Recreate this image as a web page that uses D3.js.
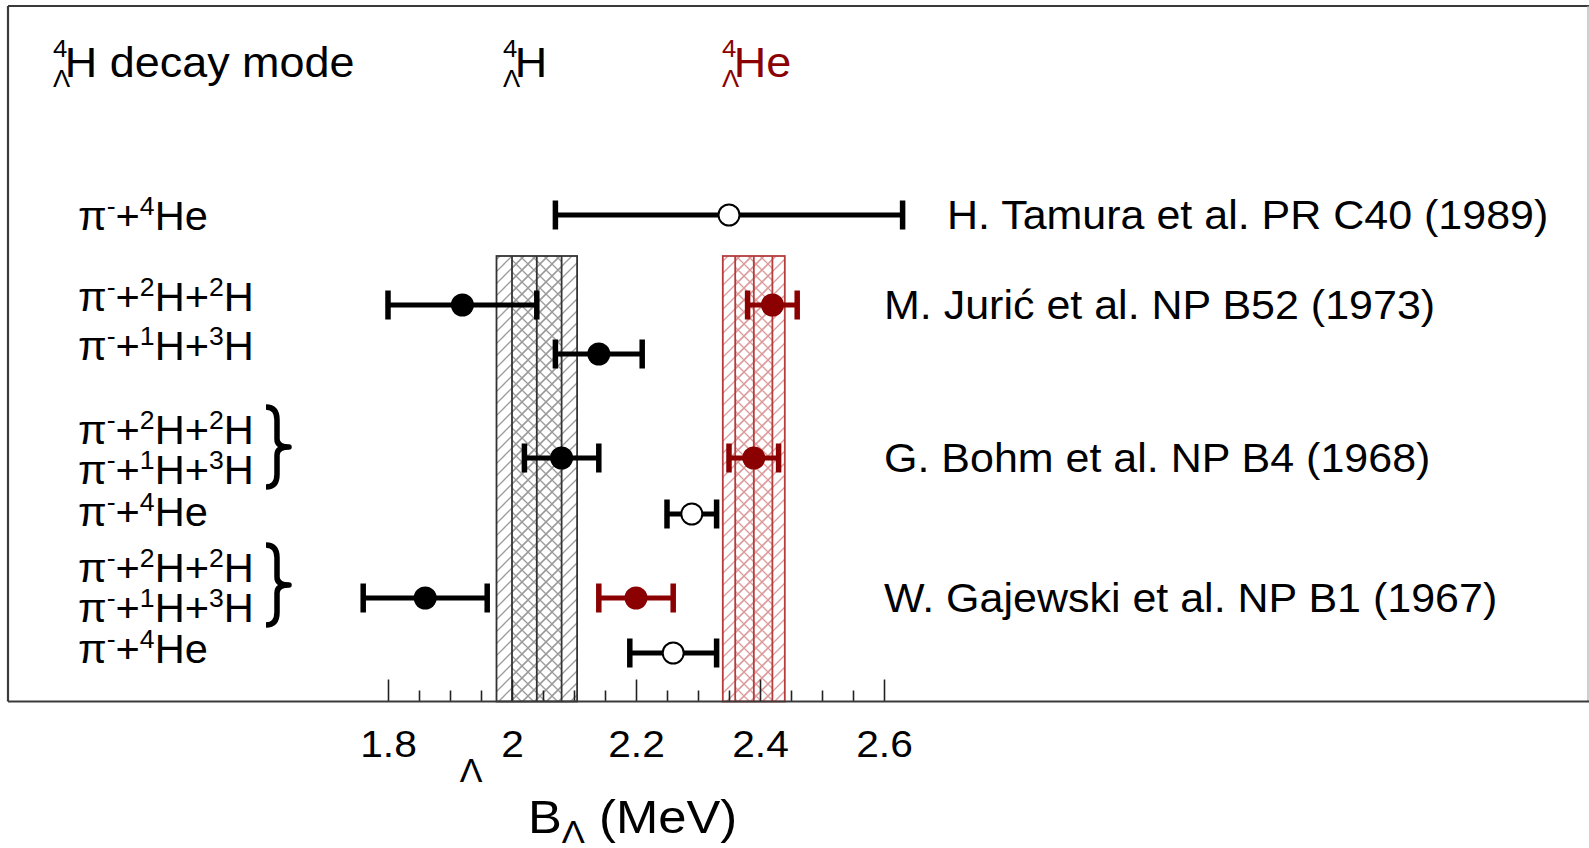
<!DOCTYPE html>
<html>
<head>
<meta charset="utf-8">
<script src="https://cdn.jsdelivr.net/npm/d3@7"></script>
<style>
  html, body { margin: 0; padding: 0; background: #fff; }
  svg { display: block; font-family: "Liberation Sans", Arial, sans-serif; }
</style>
</head>
<body>
<svg id="chart" width="1589" height="848"></svg>
<script>
// ---------------- data ----------------
// decay-mode text lines on the left ("^x" marks a superscript character)
const decayModes = ["π^-+^4He", "π^-+^2H+^2H", "π^-+^1H+^3H",
                    "π^-+^2H+^2H", "π^-+^1H+^3H", "π^-+^4He",
                    "π^-+^2H+^2H", "π^-+^1H+^3H", "π^-+^4He"];
const decayModeLines = ["T", "J1", "J2", "B1", "B2", "B3", "G1", "G2", "G3"];
const bracedLines = [["B1", "B2"], ["G1", "G2"]];

// experiments
const references = ["H. Tamura et al. PR C40 (1989)", "M. Jurić et al. NP B52 (1973)",
                    "G. Bohm et al. NP B4 (1968)", "W. Gajewski et al. NP B1 (1967)"];
const referenceRows = ["tamura", "juricDD", "bohm", "gajewski"];

// B_Λ of ⁴ΛH (filled black)
const hRows = ["juricDD", "juricPT", "bohm", "gajewski"];
const hValues = [1.92, 2.14, 2.08, 1.86];
const hErrors = [0.12, 0.07, 0.06, 0.10];

// B_Λ of ⁴ΛHe (filled red)
const heRows = ["juricDD", "bohm", "gajewski"];
const heValues = [2.42, 2.39, 2.20];
const heErrors = [0.04, 0.04, 0.06];

// ⁴ΛH from the π⁻+⁴He decay mode (open circles)
const he4Rows = ["tamura", "bohmHe4", "gajewskiHe4"];
const he4Values = [2.35, 2.29, 2.26];
const he4Errors = [0.28, 0.04, 0.07];

// averaged emulsion values (hatched bands)
const bandNames = ["H", "He"];
const bandCenters = [2.04, 2.39];
const bandStatErrors = [0.04, 0.03];
const bandTotalErrors = [0.065, 0.05];

// x axis
const xMajorTicks = [1.8, 2.0, 2.2, 2.4, 2.6];
const xTickLabels = ["1.8", "2", "2.2", "2.4", "2.6"];
const xMinorStep = 0.05;

// ---------------- layout ----------------
const W = 1589;
const frame = { left: 8, top: 6, right: 1588, bottom: 701.5 };
const bandTop = 256;
const black = "#000", red = "#8b0000";
const stretch = 1.07;   // the figure's lettering is slightly wide

const svg = d3.select("#chart");

const x = d3.scaleLinear().domain([1.8, 2.6]).range([388, 884]);
const rowY = d3.scaleOrdinal()
  .domain(["tamura", "juricDD", "juricPT", "bohm", "bohmHe4", "gajewski", "gajewskiHe4"])
  .range([215, 305, 354, 458, 514, 598, 653]);
const lineY = d3.scaleOrdinal().domain(decayModeLines)
  .range([230, 311, 360, 444, 484, 526, 582, 622, 663]);

function label(px, py, size, sx, color) {
  return svg.append("text")
    .attr("transform", `translate(${px},${py}) scale(${sx},1)`)
    .attr("font-size", size).style("fill", color || black);
}

// hatch patterns
const defs = svg.append("defs");
function hatch(id, color, cross) {
  const p = defs.append("pattern").attr("id", id)
    .attr("patternUnits", "userSpaceOnUse").attr("width", 12).attr("height", 12);
  p.append("path").attr("d", "M-3,15 L15,-3 M-3,3 L3,-3 M9,15 L15,9")
    .attr("stroke", color).attr("stroke-width", 1.3).attr("fill", "none");
  if (cross) {
    p.append("path").attr("d", "M-3,-3 L15,15 M-3,9 L3,15 M9,-3 L15,3")
      .attr("stroke", color).attr("stroke-width", 1.3).attr("fill", "none");
  }
}
hatch("hatch-H", "#9a9a9a", false);
hatch("cross-H", "#9a9a9a", true);
hatch("hatch-He", "#dc9a9a", false);
hatch("cross-He", "#dc9a9a", true);
const bandLineColor = { H: "#333", He: "#b43c3c" };

// bands
bandNames.forEach((name, i) => {
  const c = bandCenters[i], s = bandStatErrors[i], t = bandTotalErrors[i];
  const g = svg.append("g");
  const h = frame.bottom - bandTop;
  g.append("rect").attr("x", x(c - t)).attr("y", bandTop)
    .attr("width", x(c + t) - x(c - t)).attr("height", h).attr("fill", `url(#hatch-${name})`);
  g.append("rect").attr("x", x(c - s)).attr("y", bandTop)
    .attr("width", x(c + s) - x(c - s)).attr("height", h).attr("fill", `url(#cross-${name})`);
  g.append("rect").attr("x", x(c - t)).attr("y", bandTop)
    .attr("width", x(c + t) - x(c - t)).attr("height", h)
    .attr("fill", "none").attr("stroke", bandLineColor[name]).attr("stroke-width", 1.8);
  [c - s, c, c + s].forEach(v => {
    g.append("line").attr("x1", x(v)).attr("x2", x(v)).attr("y1", bandTop).attr("y2", frame.bottom)
      .attr("stroke", bandLineColor[name]).attr("stroke-width", 1.8);
  });
});

// frame borders
svg.append("line").attr("x1", frame.left).attr("x2", W).attr("y1", frame.top).attr("y2", frame.top)
  .attr("stroke", "#3a3a3a").attr("stroke-width", 2.2);
svg.append("line").attr("x1", frame.left).attr("x2", frame.left).attr("y1", frame.top).attr("y2", frame.bottom)
  .attr("stroke", "#3a3a3a").attr("stroke-width", 2.2);
svg.append("line").attr("x1", frame.right).attr("x2", frame.right).attr("y1", frame.top).attr("y2", frame.bottom)
  .attr("stroke", "#b0b0b0").attr("stroke-width", 1.2);

// x axis: ticks point up into the frame
const minorTicks = d3.range(1.8, 2.6 + 1e-9, xMinorStep)
  .filter(v => !xMajorTicks.some(m => Math.abs(m - v) < 1e-6));
const axisG = svg.append("g").attr("transform", `translate(0,${frame.bottom})`);
axisG.call(d3.axisBottom(x).tickValues(minorTicks).tickSizeInner(-11).tickSizeOuter(0).tickFormat(""));
const majorG = svg.append("g").attr("transform", `translate(0,${frame.bottom})`);
majorG.call(d3.axisBottom(x).tickValues(xMajorTicks).tickSizeInner(-22).tickSizeOuter(0)
  .tickPadding(29).tickFormat((d, i) => xTickLabels[i]));
[axisG, majorG].forEach(g => {
  g.select(".domain").remove();
  g.selectAll(".tick line").attr("stroke", "#222").attr("stroke-width", 1.6);
});
majorG.selectAll(".tick text").attr("font-size", 37).style("fill", "#000")
  .attr("font-family", "Liberation Sans, Arial, sans-serif")
  .attr("transform", "scale(1.1,1)");
svg.append("line").attr("x1", frame.left).attr("x2", W).attr("y1", frame.bottom).attr("y2", frame.bottom)
  .attr("stroke", "#3a3a3a").attr("stroke-width", 2.2);

// axis title
const title = label(528, 833, 47, 1.08);
title.append("tspan").text("B");
title.append("tspan").attr("font-size", 32).attr("dy", 10).text("Λ");
title.append("tspan").attr("dy", -10).text(" (MeV)");
label(471, 782, 34, 1, black).attr("text-anchor", "middle").text("Λ");

// header: hypernucleus symbols with stacked mass number / Λ
function hyper(x0, base, sym, color) {
  const t = label(x0, base, 42, stretch, color);
  t.append("tspan").attr("font-size", 24).attr("dy", -20).text("4");
  t.append("tspan").attr("font-size", 24).attr("x", 0).attr("dy", 30).text("Λ");
  t.append("tspan").attr("x", 11).attr("dy", -10).text(sym);
}
hyper(53, 77, "H decay mode", black);
hyper(503, 77, "H", black);
hyper(722, 77, "He", red);

// decay-mode labels with superscripts
function richText(sel, str, size) {
  const parts = str.split(/(\^.)/).filter(s => s.length);
  let raised = false;
  parts.forEach(p => {
    if (p[0] === "^") {
      sel.append("tspan").attr("font-size", size * 0.64).attr("dy", raised ? 0 : -size * 0.38).text(p[1]);
      raised = true;
    } else {
      sel.append("tspan").attr("dy", raised ? size * 0.38 : 0).text(p);
      raised = false;
    }
  });
}
decayModes.forEach((m, i) => {
  richText(label(78, lineY(decayModeLines[i]), 40, 1.04), m, 40);
});

// curly braces joining the combined decay modes
bracedLines.forEach(pair => {
  const y0 = lineY(pair[0]) - 37, y1 = lineY(pair[1]) + 3;
  const ym = (y0 + y1) / 2, x0 = 266, x1 = 289, xm = 277, hh = y1 - y0;
  const d = `M${x0},${y0} Q${xm},${y0} ${xm},${y0 + hh * 0.16} L${xm},${ym - hh * 0.1} Q${xm},${ym} ${x1},${ym}` +
            ` Q${xm},${ym} ${xm},${ym + hh * 0.1} L${xm},${y1 - hh * 0.16} Q${xm},${y1} ${x0},${y1}`;
  svg.append("path").attr("d", d).attr("fill", "none").attr("stroke", "#000")
    .attr("stroke-width", 5.5).attr("stroke-linejoin", "round");
});

// reference labels
references.forEach((r, i) => {
  label(i === 0 ? 947 : 884, rowY(referenceRows[i]) + 14, 40, 1.075).text(r);
});

// error bars + markers
function series(rows, values, errors, color, open) {
  const g = svg.append("g");
  values.forEach((v, i) => {
    const y = rowY(rows[i]), e = errors[i];
    g.append("line").attr("x1", x(v - e)).attr("x2", x(v + e)).attr("y1", y).attr("y2", y)
      .attr("stroke", color).attr("stroke-width", 5);
    [v - e, v + e].forEach(xv => {
      g.append("line").attr("x1", x(xv)).attr("x2", x(xv)).attr("y1", y - 14.5).attr("y2", y + 14.5)
        .attr("stroke", color).attr("stroke-width", 5.5);
    });
    g.append("circle").attr("cx", x(v)).attr("cy", y).attr("r", open ? 10.5 : 11.5)
      .attr("fill", open ? "#fff" : color).attr("stroke", open ? "#000" : "none").attr("stroke-width", 2);
  });
}
series(hRows, hValues, hErrors, black, false);
series(heRows, heValues, heErrors, red, false);
series(he4Rows, he4Values, he4Errors, black, true);
</script>
</body>
</html>
